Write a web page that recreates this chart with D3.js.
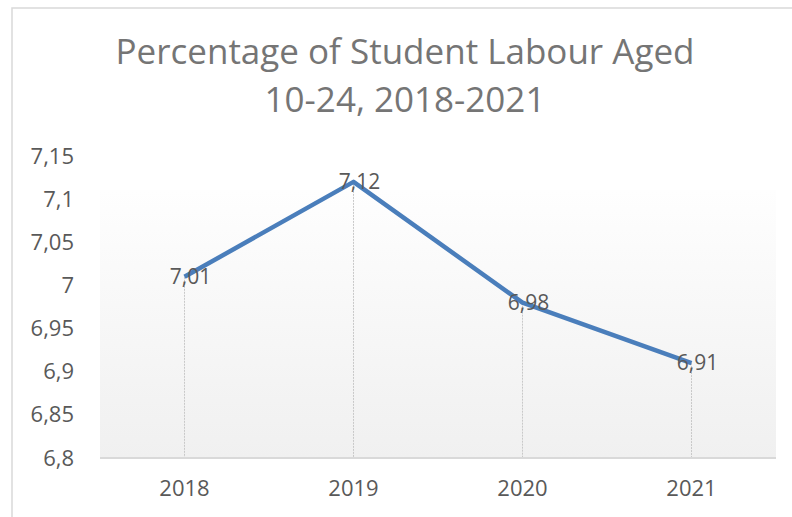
<!DOCTYPE html>
<html>
<head>
<meta charset="utf-8">
<script src="https://cdn.jsdelivr.net/npm/d3@7"></script>
<style>
  body { margin: 0; background: #fff; }
  svg { display: block; }
</style>
</head>
<body>
<svg width="792" height="517"></svg>
<script>
const years = ['2018', '2019', '2020', '2021'];
const values = [7.01, 7.12, 6.98, 6.91];
const yTicks = [6.8, 6.85, 6.9, 6.95, 7, 7.05, 7.1, 7.15];
const titleLines = ['Percentage of Student Labour Aged', '10-24, 2018-2021'];

const svg = d3.select('svg');
const font = '"Open Sans", sans-serif';
const fmt = v => String(v).replace('.', ',');

// chart border (cut off at right/bottom like the reference)
svg.append('rect')
  .attr('x', 12).attr('y', 8)
  .attr('width', 800).attr('height', 520)
  .attr('fill', '#fff')
  .attr('stroke', '#d9d9d9')
  .attr('stroke-width', 1.5);

const margin = { top: 156, left: 100, right: 16, bottom: 59 };
const width = 792 - margin.left - margin.right;
const height = 517 - margin.top - margin.bottom;

const defs = svg.append('defs');
const grad = defs.append('linearGradient')
  .attr('id', 'bg').attr('x1', 0).attr('y1', 0).attr('x2', 0).attr('y2', 1);
grad.append('stop').attr('offset', '0%').attr('stop-color', '#fefefe');
grad.append('stop').attr('offset', '100%').attr('stop-color', '#f0f0f0');

const g = svg.append('g')
  .attr('transform', `translate(${margin.left},${margin.top})`);

// plot area background (starts a little below the top tick)
g.append('rect')
  .attr('y', 34)
  .attr('width', width).attr('height', height - 34)
  .attr('fill', 'url(#bg)');

const x = d3.scaleBand().domain(years).range([0, width]);
const y = d3.scaleLinear().domain([6.8, 7.15]).range([height, 0]);

// title
svg.append('g').selectAll('text')
  .data(titleLines).enter()
  .append('text')
  .attr('x', 405)
  .attr('y', (d, i) => 64 + i * 48)
  .attr('text-anchor', 'middle')
  .attr('font-family', font)
  .attr('font-size', 35)
  .attr('fill', '#757575')
  .text(d => d);

// y axis labels
const yAxis = d3.axisLeft(y)
  .tickValues(yTicks)
  .tickFormat(fmt)
  .tickSize(0)
  .tickPadding(26);
const yAxisG = g.append('g').call(yAxis);
yAxisG.select('.domain').remove();
yAxisG.selectAll('text')
  .attr('font-family', font)
  .attr('font-size', 22)
  .attr('fill', '#595959');

// x axis
const xAxis = d3.axisBottom(x).tickSize(0).tickPadding(22);
const xAxisG = g.append('g')
  .attr('transform', `translate(0,${height})`)
  .call(xAxis);
xAxisG.select('.domain').remove();
xAxisG.selectAll('text')
  .attr('font-family', font)
  .attr('font-size', 22)
  .attr('fill', '#595959');

const data = years.map((yr, i) => ({ year: yr, value: values[i] }));
const cx = d => x(d.year) + x.bandwidth() / 2;

// drop lines
g.append('g').selectAll('line')
  .data(data).enter()
  .append('line')
  .attr('x1', cx).attr('x2', cx)
  .attr('y1', d => y(d.value)).attr('y2', height)
  .attr('stroke', '#c8c8c8')
  .attr('stroke-width', 1)
  .attr('stroke-dasharray', '2,1');

// baseline
g.append('line')
  .attr('x1', 0).attr('x2', width)
  .attr('y1', height).attr('y2', height)
  .attr('stroke', '#d9d9d9')
  .attr('stroke-width', 2);

// line
g.append('path')
  .datum(data)
  .attr('fill', 'none')
  .attr('stroke', '#4a7ebb')
  .attr('stroke-width', 4.5)
  .attr('stroke-linejoin', 'round')
  .attr('d', d3.line().x(cx).y(d => y(d.value)));

// data labels
g.append('g').selectAll('text')
  .data(data).enter()
  .append('text')
  .attr('x', d => cx(d) + 6)
  .attr('y', d => y(d.value))
  .attr('dy', '0.35em')
  .attr('text-anchor', 'middle')
  .attr('font-family', font)
  .attr('font-size', 21)
  .attr('fill', '#595959')
  .text(d => fmt(d.value));
</script>
</body>
</html>
